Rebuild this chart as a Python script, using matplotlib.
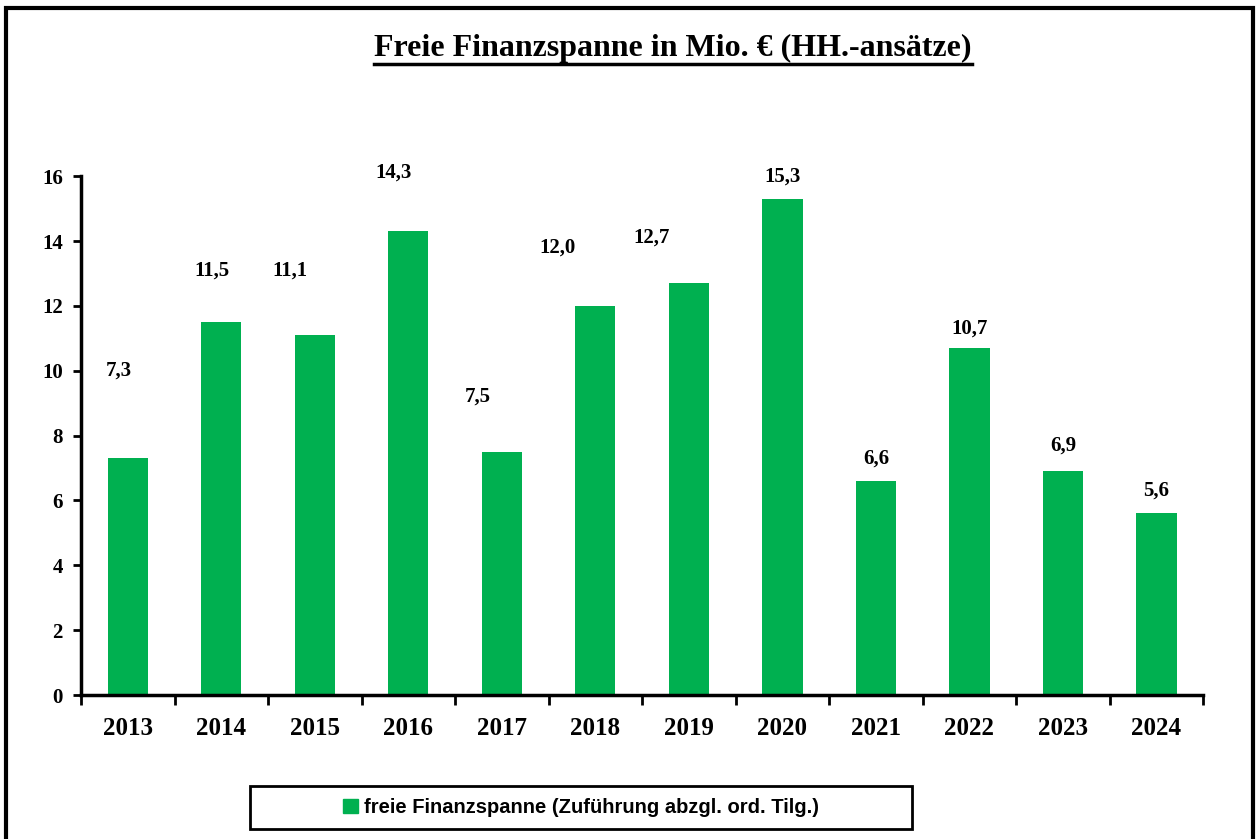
import numpy as np
import matplotlib
matplotlib.use("Agg")
import matplotlib.pyplot as plt
from matplotlib.patches import Rectangle
from matplotlib.lines import Line2D

# data
years = ["2013", "2014", "2015", "2016", "2017", "2018",
         "2019", "2020", "2021", "2022", "2023", "2024"]
values = [7.3, 11.5, 11.1, 14.3, 7.5, 12.0, 12.7, 15.3, 6.6, 10.7, 6.9, 5.6]
labels = ["7,3", "11,5", "11,1", "14,3", "7,5", "12,0",
          "12,7", "15,3", "6,6", "10,7", "6,9", "5,6"]
# where Excel left the data labels (data units)
label_y = [10.0, 13.1, 13.1, 16.1, 9.2, 13.8, 14.1, 16.0, 7.3, 11.3, 7.7, 6.3]
label_dx = [-0.1, -0.1, -0.27, -0.16, -0.26, -0.4, -0.4, 0.0, 0.0, 0.0, 0.0, 0.0]

GREEN = "#00B050"
SERIF = "Liberation Serif"
SANS = "Liberation Sans"

fig = plt.figure(figsize=(12.56, 8.39), dpi=100)
ax = fig.add_axes([0.0645, 0.1716, 0.8935, 0.6184])

x = np.arange(len(years))
ax.bar(x, values, width=0.43, color=GREEN, zorder=2)

for i, (lab, ly, dx) in enumerate(zip(labels, label_y, label_dx)):
    ax.text(x[i] + dx, ly, lab, ha="center", va="center", fontsize=15,
            fontweight="bold", family=SERIF)

ax.set_xlim(-0.5, len(years) - 0.5)
ax.set_ylim(0, 16)
ax.set_yticks(range(0, 17, 2))
ax.set_yticklabels([str(v) for v in range(0, 17, 2)], fontsize=15,
                   fontweight="bold", family=SERIF)
ax.set_xticks(x)
ax.set_xticklabels(years, fontsize=18, fontweight="bold", family=SERIF)
ax.set_xticks(np.arange(-0.5, len(years)), minor=True)
ax.tick_params(axis="x", which="major", length=0, pad=16)
ax.tick_params(axis="x", which="minor", length=7, width=2, direction="out")
ax.tick_params(axis="y", length=6, width=2, direction="out", pad=7)

for s in ["top", "right"]:
    ax.spines[s].set_visible(False)
for s in ["left", "bottom"]:
    ax.spines[s].set_linewidth(2.5)

# title with underline
t = fig.text(0.536, 0.942, "Freie Finanzspanne in Mio. € (HH.-ansätze)",
             ha="center", va="center", fontsize=23, fontweight="bold",
             family=SERIF)
fig.canvas.draw()
bb = t.get_window_extent().transformed(fig.transFigure.inverted())
fig.add_artist(Line2D([bb.x0, bb.x1], [bb.y0 - 0.001, bb.y0 - 0.001],
                      color="black", lw=2.5, transform=fig.transFigure))

# legend box
fig.add_artist(Rectangle((250 / 1256, 1 - 829 / 839), 662 / 1256, 43 / 839,
                         transform=fig.transFigure, fill=False,
                         edgecolor="black", lw=2))
handle = Rectangle((0, 0), 1, 1, color=GREEN)
fig.legend([handle], ["freie Finanzspanne (Zuführung abzgl. ord. Tilg.)"],
           loc="center", bbox_to_anchor=(0.4626, 0.038), frameon=False,
           handlelength=0.7, handleheight=0.7, handletextpad=0.3,
           prop={"family": SANS, "weight": "bold", "size": 14.5})

# outer frame
fig.add_artist(Rectangle((6 / 1256, -0.01), 1247 / 1256, 1 - 8 / 839 + 0.01,
                         transform=fig.transFigure, fill=False,
                         edgecolor="black", lw=3))

fig.savefig("out.png", dpi=100, facecolor="white")
